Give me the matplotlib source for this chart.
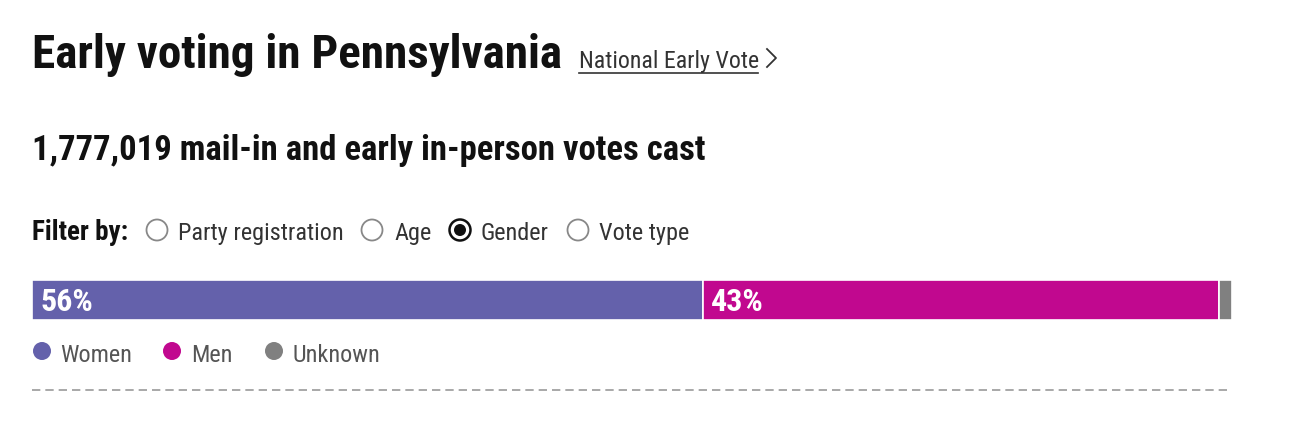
import matplotlib
matplotlib.use("Agg")
import matplotlib.pyplot as plt
from matplotlib import font_manager as fm
from matplotlib.patches import Circle

# data
categories = ["Women", "Men", "Unknown"]
shares = [55.9, 43.0, 1.1]
bar_labels = ["56%", "43%", ""]
colors = ["#6461ab", "#c1088f", "#808080"]
filters = ["Party registration", "Age", "Gender", "Vote type"]
selected = "Gender"
total_votes = 1777019

# pick a narrow font if one is installed
names = {f.name for f in fm.fontManager.ttflist}
FONT = "DejaVu Sans"
for cand in ["Liberation Sans Narrow", "Roboto Condensed", "DejaVu Sans Condensed",
             "Open Sans Condensed", "Roboto"]:
    if cand in names:
        FONT = cand
        break
plt.rcParams["font.family"] = [FONT, "DejaVu Sans"]

fig = plt.figure(figsize=(13.06, 4.22), dpi=100)
ov = fig.add_axes([0, 0, 1, 1])
ov.set_xlim(0, 1306)
ov.set_ylim(422, 0)
ov.axis("off")
ov.set_zorder(3)
renderer = fig.canvas.get_renderer()


def fit_text(x, y, s, width, size=20, **kw):
    t = ov.text(x, y, s, fontsize=size, va="baseline", ha="left", **kw)
    w = t.get_window_extent(renderer).width
    t.set_fontsize(size * width / w)
    return t


# header
fit_text(32, 68, "Early voting in Pennsylvania", 530, fontweight="bold", color="#111111")
fit_text(579, 68, "National Early Vote", 179, color="#333333")
ov.plot([579, 758], [73, 73], color="#333333", lw=1.2)
ov.plot([767, 776, 767], [49, 58, 67], color="#333333", lw=1.3)

fit_text(32, 160, f"{total_votes:,} mail-in and early in-person votes cast", 670,
         fontweight="bold", color="#111111")

# filter row
fit_text(32, 240, "Filter by:", 96, fontweight="bold", color="#111111")
ref = fit_text(178, 240, filters[0], 165, color="#333333")
fs = ref.get_fontsize()
circle_x = [157, 372, 460, 578]
label_x = [178, 394, 481, 599]
for i, name in enumerate(filters):
    if i > 0:
        ov.text(label_x[i], 240, name, fontsize=fs, va="baseline", color="#333333")
    if name == selected:
        ov.add_patch(Circle((circle_x[i], 230), 10.5, fc="white", ec="#111111", lw=1.8))
        ov.add_patch(Circle((circle_x[i], 230), 6, fc="#111111", ec="none"))
    else:
        ov.add_patch(Circle((circle_x[i], 230), 10.5, fc="white", ec="#888888", lw=1.3))

# stacked bar
ax = fig.add_axes([32 / 1306, (422 - 320) / 422, 1200 / 1306, 40 / 422])
ax.set_zorder(1)
ax.set_xlim(0, sum(shares))
ax.set_ylim(-0.5, 0.5)
ax.axis("off")
left = 0
pct_size = None
for cat, val, lab, col in zip(categories, shares, bar_labels, colors):
    ax.barh(0, val, left=left, height=1, color=col, edgecolor="white", linewidth=1.2)
    if lab:
        px = ax.transData.transform((left, 0))[0] + 8
        if pct_size is None:
            t = fit_text(px, 311, lab, 53, fontweight="bold", color="white")
            pct_size = t.get_fontsize()
        else:
            ov.text(px, 311, lab, fontsize=pct_size, fontweight="bold", color="white",
                    va="baseline", ha="left")
    left += val

# legend
dot_x = [42, 172, 274]
text_x = [60, 191, 292]
for cat, col, dx, tx in zip(categories, colors, dot_x, text_x):
    ov.add_patch(Circle((dx, 351), 9, fc=col, ec="none"))
    ov.text(tx, 362, cat, fontsize=fs, va="baseline", color="#555555")

ov.plot([32, 1232], [390, 390], color="#999999", lw=1.2, ls=(0, (5, 3)))

fig.savefig("out.png", dpi=100, facecolor="white")
